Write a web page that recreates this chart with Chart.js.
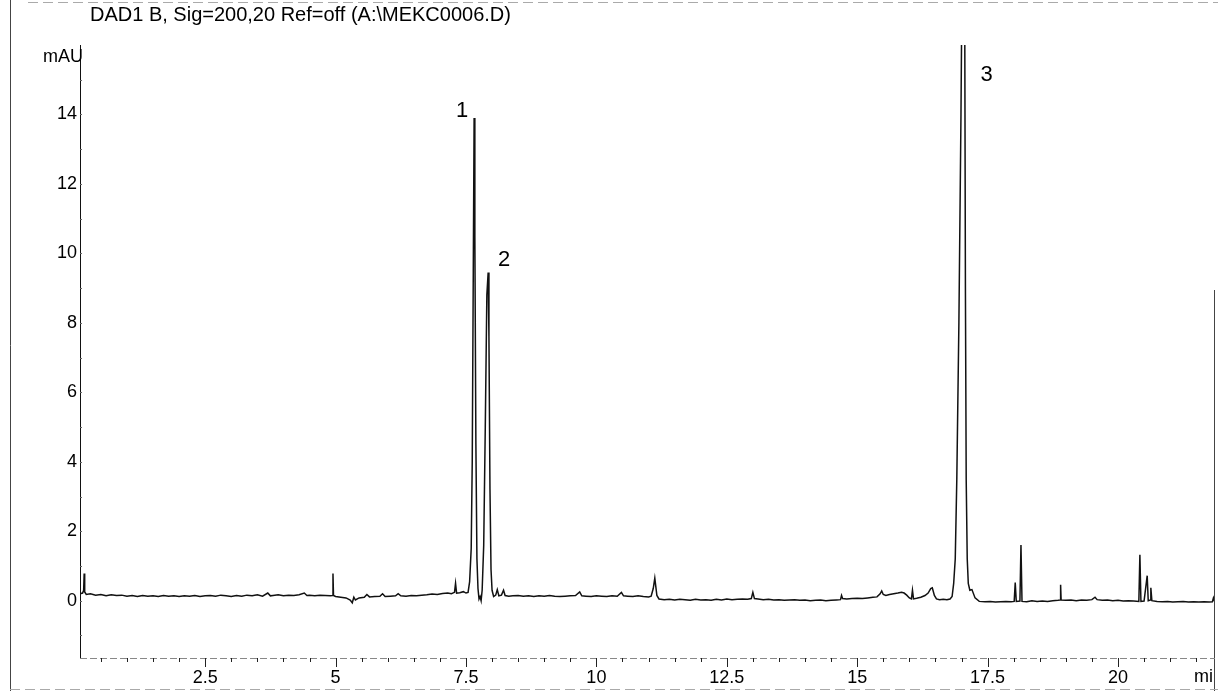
<!DOCTYPE html>
<html>
<head>
<meta charset="utf-8">
<script src="https://cdn.jsdelivr.net/npm/chart.js@4/dist/chart.umd.min.js"></script>
<style>
  html, body { margin: 0; padding: 0; background: #fff; }
  canvas { display: block; }
</style>
</head>
<body>
<canvas id="chromatogram" width="1218" height="691"></canvas>
<script>
// retention time (min) and detector signal (mAU)
const retentionMin = [
  0.10, 0.15, 0.17, 0.18, 0.19, 0.22, 0.30, 0.40, 0.50, 0.60,
  0.70, 0.80, 0.90, 1.00, 1.10, 1.20, 1.30, 1.40, 1.50, 1.60,
  1.70, 1.80, 1.90, 2.00, 2.10, 2.20, 2.30, 2.40, 2.50, 2.60,
  2.70, 2.80, 2.90, 3.00, 3.10, 3.20, 3.30, 3.40, 3.50, 3.60,
  3.70, 3.75, 3.80, 3.90, 4.00, 4.10, 4.20, 4.30, 4.40, 4.45,
  4.50, 4.60, 4.70, 4.80, 4.90, 4.94, 4.95, 4.96, 5.00, 5.10,
  5.20, 5.28, 5.32, 5.35, 5.38, 5.45, 5.55, 5.60, 5.65, 5.75,
  5.85, 5.90, 5.95, 6.05, 6.15, 6.20, 6.25, 6.35, 6.45, 6.55,
  6.65, 6.75, 6.85, 6.95, 7.05, 7.15, 7.22, 7.28, 7.30, 7.32,
  7.38, 7.45, 7.50, 7.54, 7.57, 7.60, 7.62, 7.64, 7.656, 7.67,
  7.69, 7.71, 7.73, 7.75, 7.77, 7.79, 7.81, 7.84, 7.87, 7.90,
  7.925, 7.94, 7.96, 7.98, 8.00, 8.03, 8.07, 8.10, 8.13, 8.18,
  8.22, 8.25, 8.32, 8.40, 8.50, 8.60, 8.70, 8.80, 8.90, 9.00,
  9.10, 9.20, 9.30, 9.40, 9.50, 9.60, 9.68, 9.72, 9.80, 9.90,
  10.00, 10.10, 10.20, 10.30, 10.40, 10.48, 10.52, 10.60, 10.70, 10.80,
  10.90, 11.00, 11.05, 11.09, 11.12, 11.14, 11.16, 11.20, 11.30, 11.40,
  11.50, 11.60, 11.70, 11.80, 11.90, 12.00, 12.10, 12.20, 12.30, 12.40,
  12.50, 12.60, 12.70, 12.80, 12.90, 12.97, 13.00, 13.03, 13.10, 13.20,
  13.30, 13.40, 13.50, 13.60, 13.70, 13.80, 13.90, 14.00, 14.10, 14.20,
  14.30, 14.40, 14.50, 14.60, 14.68, 14.70, 14.72, 14.80, 14.90, 15.00,
  15.10, 15.20, 15.30, 15.38, 15.44, 15.47, 15.50, 15.55, 15.62, 15.70,
  15.78, 15.85, 15.90, 15.95, 16.00, 16.04, 16.06, 16.08, 16.14, 16.22,
  16.30, 16.36, 16.41, 16.44, 16.48, 16.52, 16.58, 16.65, 16.72, 16.78,
  16.82, 16.85, 16.88, 16.91, 16.95, 16.99, 17.02, 17.04, 17.06, 17.075,
  17.09, 17.11, 17.13, 17.16, 17.20, 17.26, 17.34, 17.45, 17.55, 17.65,
  17.75, 17.85, 17.95, 18.01, 18.03, 18.05, 18.12, 18.14, 18.16, 18.25,
  18.35, 18.45, 18.55, 18.65, 18.75, 18.85, 18.89, 18.90, 18.91, 19.00,
  19.10, 19.20, 19.30, 19.40, 19.50, 19.56, 19.60, 19.70, 19.80, 19.90,
  20.00, 20.10, 20.20, 20.30, 20.40, 20.42, 20.44, 20.50, 20.56, 20.58,
  20.62, 20.63, 20.65, 20.75, 20.85, 20.95, 21.05, 21.15, 21.25, 21.35,
  21.45, 21.55, 21.65, 21.75, 21.81, 21.83, 21.85
];

const absorbanceMAU = [
  0.20, 0.22, 0.30, 0.78, 0.25, 0.18, 0.20, 0.16, 0.18, 0.14,
  0.17, 0.15, 0.16, 0.13, 0.15, 0.12, 0.15, 0.13, 0.14, 0.12,
  0.15, 0.13, 0.14, 0.12, 0.14, 0.13, 0.15, 0.12, 0.14, 0.15,
  0.13, 0.16, 0.14, 0.12, 0.15, 0.13, 0.16, 0.14, 0.17, 0.13,
  0.22, 0.14, 0.15, 0.17, 0.14, 0.16, 0.15, 0.17, 0.22, 0.15,
  0.16, 0.14, 0.16, 0.15, 0.14, 0.15, 0.78, 0.15, 0.12, 0.10,
  0.08, 0.02, -0.06, 0.10, 0.02, 0.08, 0.10, 0.18, 0.11, 0.12,
  0.13, 0.20, 0.12, 0.13, 0.14, 0.20, 0.14, 0.13, 0.15, 0.14,
  0.16, 0.17, 0.19, 0.18, 0.21, 0.22, 0.20, 0.24, 0.50, 0.22,
  0.23, 0.26, 0.22, 0.24, 0.55, 1.5, 4.0, 9.5, 13.9, 10.5,
  4.5, 1.2, 0.35, 0.05, 0.12, 0.00, 0.30, 1.6, 5.0, 8.8,
  9.45, 7.6, 3.2, 0.9, 0.30, 0.12, 0.16, 0.32, 0.14, 0.16,
  0.30, 0.15, 0.13, 0.14, 0.15, 0.13, 0.14, 0.12, 0.14, 0.13,
  0.15, 0.13, 0.12, 0.13, 0.14, 0.15, 0.25, 0.14, 0.13, 0.12,
  0.14, 0.13, 0.12, 0.14, 0.13, 0.24, 0.14, 0.13, 0.12, 0.14,
  0.12, 0.11, 0.13, 0.35, 0.65, 0.40, 0.15, 0.05, 0.03, 0.04,
  0.02, 0.04, 0.03, 0.01, 0.04, 0.02, 0.03, 0.01, 0.04, 0.02,
  0.05, 0.03, 0.04, 0.05, 0.04, 0.06, 0.24, 0.06, 0.05, 0.03,
  0.04, 0.02, 0.03, 0.01, 0.02, 0.03, 0.01, 0.02, 0.00, 0.01,
  0.02, 0.00, 0.01, 0.02, 0.03, 0.15, 0.06, 0.05, 0.06, 0.07,
  0.06, 0.08, 0.10, 0.11, 0.20, 0.28, 0.18, 0.15, 0.18, 0.20,
  0.22, 0.24, 0.22, 0.16, 0.08, 0.05, 0.30, 0.05, 0.07, 0.10,
  0.15, 0.22, 0.35, 0.37, 0.15, 0.05, 0.03, 0.04, 0.03, 0.05,
  0.12, 0.5, 1.2, 3.5, 8, 14, 20, 24, 18, 9,
  3.5, 1.2, 0.5, 0.30, 0.32, 0.08, -0.02, -0.03, -0.02, -0.04,
  -0.03, -0.02, -0.03, -0.02, 0.52, -0.02, -0.01, 1.6, -0.02, -0.03,
  0.00, -0.02, -0.01, -0.02, 0.00, 0.01, 0.02, 0.46, 0.02, 0.01,
  0.02, 0.00, 0.02, 0.01, 0.03, 0.10, 0.03, 0.01, 0.02, 0.00,
  0.01, -0.01, 0.00, -0.01, -0.02, 1.32, -0.02, -0.01, 0.72, 0.00,
  0.02, 0.37, 0.00, -0.02, -0.03, -0.02, -0.04, -0.03, -0.02, -0.04,
  -0.03, -0.04, -0.03, -0.04, -0.03, 0.08, -0.02
];

const xTickLabels = [2.5, 5, 7.5, 10, 12.5, 15, 17.5, 20];
const yTickLabels = [0, 2, 4, 6, 8, 10, 12, 14];
const peakNames = ['1', '2', '3'];
const peakTimes = [7.656, 7.925, 17.04];

const signalTitle = 'DAD1 B, Sig=200,20 Ref=off (A:\\MEKC0006.D)';

// label offsets from each peak apex, in px
const peakLabelOffsets = [[-12, -7], [16, -13], [23, 30]];

const FONT = '"Liberation Sans", Arial, Helvetica, sans-serif';
Chart.defaults.font.family = FONT;
Chart.defaults.color = '#000';

// axis ticks, frame and text of the printout
const printout = {
  id: 'printout',
  afterDraw(chart) {
    const ctx = chart.ctx;
    const xs = chart.scales.x, ys = chart.scales.y;
    const area = chart.chartArea;
    ctx.save();
    ctx.lineWidth = 1;

    // page frame
    ctx.strokeStyle = '#444';
    ctx.beginPath();
    ctx.moveTo(10.5, 0); ctx.lineTo(10.5, 691);
    ctx.moveTo(1214.5, 290); ctx.lineTo(1214.5, 691);
    ctx.stroke();
    ctx.strokeStyle = '#aaa';
    ctx.setLineDash([10, 5]);
    ctx.beginPath();
    ctx.moveTo(28, 2.5); ctx.lineTo(1218, 2.5);
    ctx.moveTo(10, 689.5); ctx.lineTo(1218, 689.5);
    ctx.stroke();

    // x axis line
    ctx.strokeStyle = '#888';
    ctx.setLineDash([7, 3]);
    ctx.beginPath();
    ctx.moveTo(area.left, area.bottom + 0.5); ctx.lineTo(area.right, area.bottom + 0.5);
    ctx.stroke();
    ctx.setLineDash([]);

    // x ticks every 0.5 min, long ones at labels
    ctx.strokeStyle = '#222';
    ctx.beginPath();
    for (let v = 0.5; v < xs.max; v += 0.5) {
      const px = Math.round(xs.getPixelForValue(v)) + 0.5;
      const major = Math.abs(v / 2.5 - Math.round(v / 2.5)) < 1e-6;
      ctx.moveTo(px, area.bottom);
      ctx.lineTo(px, area.bottom + (major ? 9 : 4));
    }
    ctx.stroke();
    // small y ticks every 1 mAU, inside the axis
    ctx.strokeStyle = '#666';
    ctx.beginPath();
    for (let v = -1; v <= 15; v += 1) {
      const py = Math.round(ys.getPixelForValue(v)) + 0.5;
      ctx.moveTo(area.left, py);
      ctx.lineTo(area.left + 2, py);
    }
    ctx.stroke();

    // texts
    ctx.fillStyle = '#000';
    ctx.textBaseline = 'middle';
    ctx.textAlign = 'left';
    ctx.font = '20px ' + FONT;
    ctx.fillText(signalTitle, 90, 15);
    ctx.font = '18px ' + FONT;
    ctx.fillText('mAU', 43, 57);
    ctx.textAlign = 'right';
    ctx.fillText('mi', 1213, 677);

    // peak numbers
    ctx.textAlign = 'center';
    ctx.font = '22px ' + FONT;
    peakNames.forEach((name, i) => {
      const idx = retentionMin.indexOf(peakTimes[i]);
      const px = xs.getPixelForValue(peakTimes[i]);
      const py = Math.max(area.top, ys.getPixelForValue(absorbanceMAU[idx]));
      ctx.fillText(name, px + peakLabelOffsets[i][0], py + peakLabelOffsets[i][1]);
    });
    ctx.restore();
  }
};

new Chart(document.getElementById('chromatogram'), {
  type: 'line',
  data: {
    datasets: [{
      data: retentionMin.map((t, i) => ({ x: t, y: absorbanceMAU[i] })),
      borderColor: '#111',
      borderWidth: 1.5,
      pointRadius: 0,
      tension: 0
    }]
  },
  options: {
    responsive: false,
    animation: false,
    devicePixelRatio: 1,
    layout: { padding: { top: 45, right: 3, left: 0, bottom: 0 } },
    plugins: { legend: { display: false }, tooltip: { enabled: false } },
    scales: {
      x: {
        type: 'linear',
        min: 0.1,
        max: 21.86,
        grid: { display: false, drawTicks: false },
        border: { display: false },
        afterBuildTicks: s => { s.ticks = xTickLabels.map(v => ({ value: v })); },
        ticks: { font: { size: 18 }, padding: 9, maxRotation: 0, autoSkip: false, callback: v => String(v) },
        afterFit: s => { s.height = 33; }
      },
      y: {
        min: -1.65,
        max: 16,
        grid: { display: false, drawTicks: false },
        border: { display: true, color: '#111', width: 1 },
        afterBuildTicks: s => { s.ticks = yTickLabels.map(v => ({ value: v })); },
        ticks: { font: { size: 18 }, padding: 3, autoSkip: false },
        afterFit: s => { s.width = 80; }
      }
    }
  },
  plugins: [printout]
});
</script>
</body>
</html>
